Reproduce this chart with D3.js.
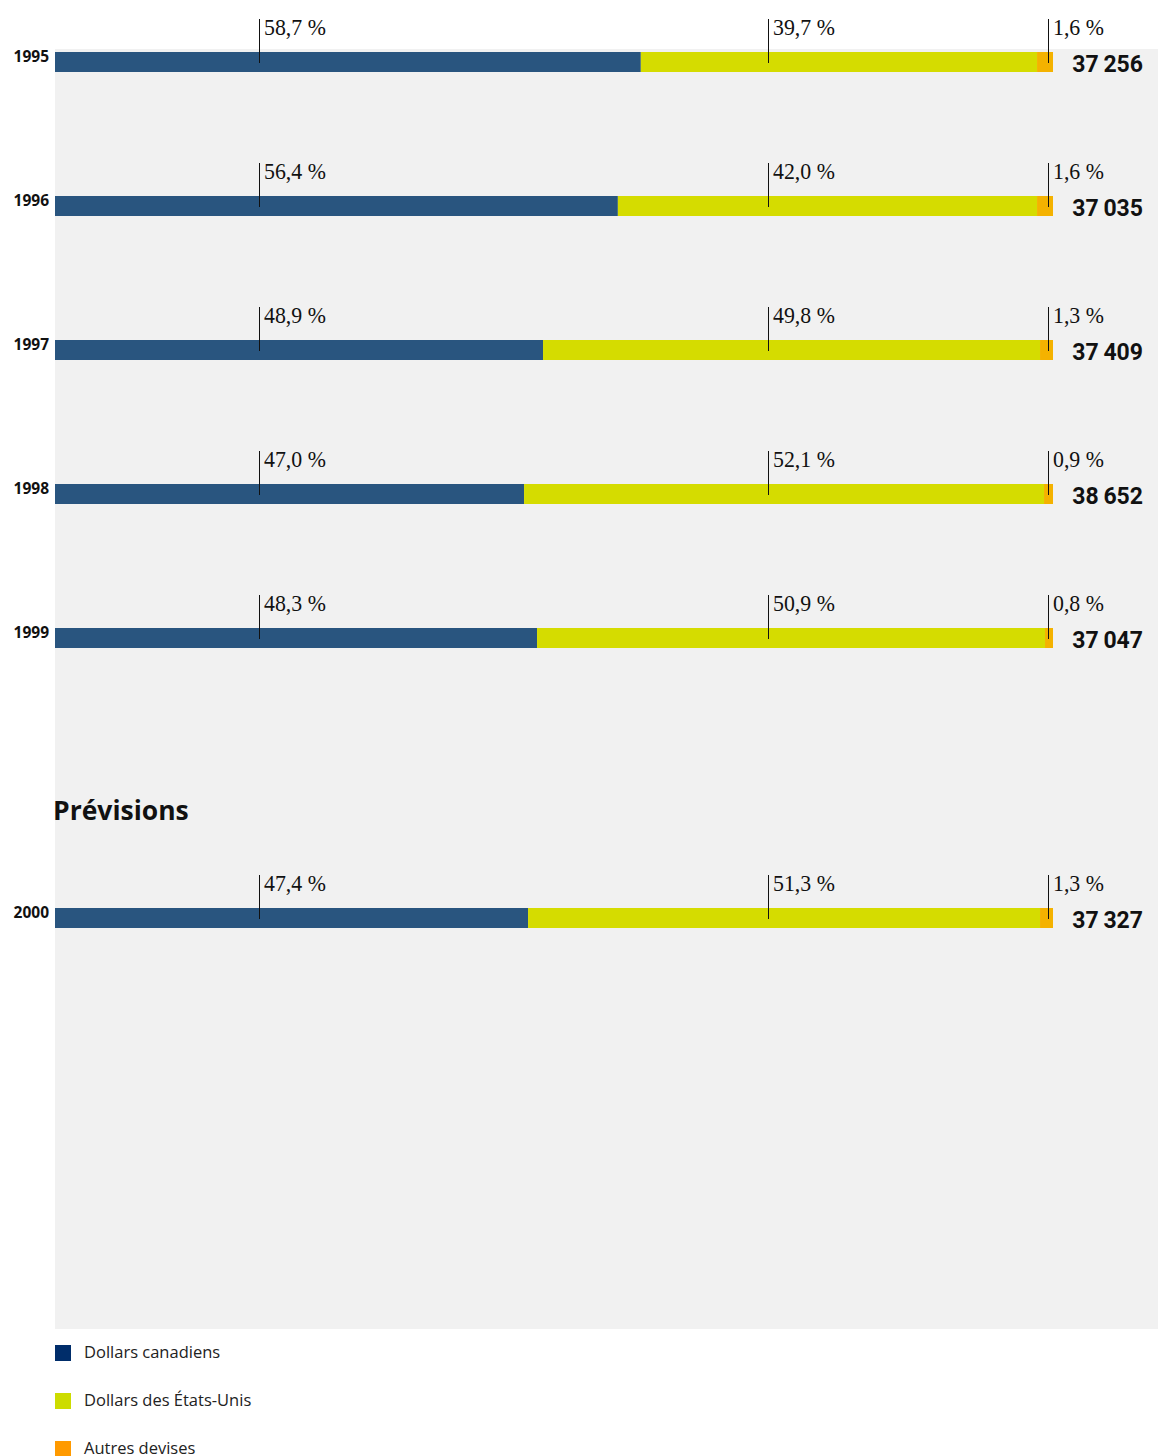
<!DOCTYPE html>
<html><head><meta charset="utf-8">
<script src="https://cdn.jsdelivr.net/npm/d3@7"></script>
<style>body{margin:0;background:#fff}svg{display:block}</style>
</head><body>
<script>
const years = ["1995","1996","1997","1998","1999","2000"];
const forecast = [false,false,false,false,false,true];
const canadian = [58.7, 56.4, 48.9, 47.0, 48.3, 47.4];
const usd = [39.7, 42.0, 49.8, 52.1, 50.9, 51.3];
const other = [1.6, 1.6, 1.3, 0.9, 0.8, 1.3];
const totals = [37256, 37035, 37409, 38652, 37047, 37327];
const seriesNames = ["Dollars canadiens","Dollars des États-Unis","Autres devises"];
const forecastTitle = "Prévisions";

const W = 1158, H = 1456;
const barColors = ["#29557f","#d5dc00","#f4b200"];
const legendColors = ["#002d6a","#cddc00","#ff9a00"];

const svg = d3.select("body").append("svg").attr("width",W).attr("height",H);
svg.append("rect").attr("x",55).attr("y",49).attr("width",W-55).attr("height",1329-49).attr("fill","#f1f1f1");

const x = d3.scaleLinear().domain([0,100]).range([55,1053]);
const rowY = d3.scaleLinear().domain([0,1]).range([52,196]);
const gap = 136;
const yOf = i => rowY(i) + (forecast[i] ? gap : 0);
const barH = 20;
const labelX = [259, 768, 1048];
const fmt = v => d3.format(",")(v).replace(/,/g, "\u2009");
const pct = v => d3.format(".1f")(v).replace(".", ",") + " %";

years.forEach((yr, i) => {
  const y0 = yOf(i);
  const vals = [canadian[i], usd[i], other[i]];
  let acc = 0;
  const g = svg.append("g");
  vals.forEach((v, k) => {
    g.append("rect").attr("x", x(acc)).attr("y", y0).attr("width", x(acc+v)-x(acc)).attr("height", barH).attr("fill", barColors[k]);
    acc += v;
  });
  vals.forEach((v, k) => {
    g.append("line").attr("x1", labelX[k]+0.5).attr("x2", labelX[k]+0.5).attr("y1", y0-33).attr("y2", y0+11).attr("stroke","#111").attr("stroke-width",1);
    const tx = labelX[k]+5, ty = y0-17;
    g.append("text").attr("transform", `translate(${tx},${ty}) scale(0.91,1)`)
      .attr("font-family","'Liberation Serif', serif").attr("font-size",24).attr("fill","#111").text(pct(v));
  });
  g.append("text").attr("x",49).attr("y",y0+10).attr("text-anchor","end").attr("font-family","'Open Sans', sans-serif").attr("font-weight",700).attr("font-size",15.5).attr("fill","#111").text(yr);
  g.append("text").attr("x",1143).attr("y",y0+20).attr("text-anchor","end").attr("font-family","Roboto, sans-serif").attr("font-weight",700).attr("font-size",23).attr("fill","#111").text(fmt(totals[i]));
});

svg.append("text").attr("x",53).attr("y",820).attr("font-family","'Open Sans', sans-serif").attr("font-weight",700).attr("font-size",26.5).attr("fill","#111").text(forecastTitle);

seriesNames.forEach((n, k) => {
  const ly = 1345 + k*48;
  svg.append("rect").attr("x",55).attr("y",ly).attr("width",16).attr("height",16).attr("fill",legendColors[k]);
  svg.append("text").attr("x",84).attr("y",ly+13).attr("font-family","'Open Sans', sans-serif").attr("font-size",16.5).attr("fill","#222").text(n);
});
</script>
</body></html>
